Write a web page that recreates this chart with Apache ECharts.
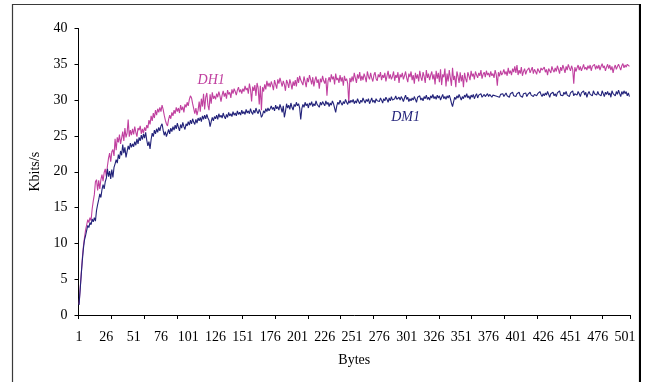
<!DOCTYPE html>
<html>
<head>
<meta charset="utf-8">
<script src="https://cdn.jsdelivr.net/npm/echarts@6/dist/echarts.min.js"></script>
<style>
html,body{margin:0;padding:0;background:#fff;}
#chart{width:646px;height:382px;}
</style>
</head>
<body>
<div id="chart"></div>
<script>
// Throughput (Kbits/s) against message size in bytes, 1..505
const byteCount = 505;
const bytes = [];
for (let b = 1; b <= byteCount; b++) bytes.push(String(b));

const yTicks = { min: 0, max: 40, step: 5 };

const dh1 = [
  1.5, 3.6, 5.8, 7.9, 9.6, 10.8, 11.9, 12.6, 13.3, 12.9, 13.6, 13.2, 14.8, 15.9, 16.8, 18.6, 18.9, 17.4, 18.8, 17.6, 18.9, 19.6, 18.7, 19.9, 20.4,
  19.3, 20.8, 21.9, 22.6, 21.4, 22.8, 23.1, 22.2, 24.6, 23.0, 24.8, 24.1, 25.2, 23.9, 24.7, 25.6, 24.3, 26.1, 24.8, 25.4, 27.3, 24.9, 25.8, 25.1, 26.0,
  25.2, 26.3, 25.5, 24.9, 26.1, 25.8, 26.4, 25.3, 26.0, 25.4, 26.2, 25.7, 26.5, 26.1, 27.2, 26.6, 27.8, 27.1, 28.2, 27.5, 28.6, 27.9, 28.8, 28.3, 29.0,
  28.4, 29.3, 28.7, 27.9, 27.2, 26.7, 26.4, 27.3, 27.9, 27.4, 28.3, 27.8, 28.6, 28.1, 29.0, 28.4, 28.9, 28.2, 29.3, 28.6, 29.1, 28.3, 29.4, 29.0, 29.7,
  29.2, 30.1, 30.6, 30.3, 29.5, 28.8, 28.1, 28.9, 27.9, 28.6, 29.8, 28.4, 30.2, 29.1, 30.9, 28.7, 30.4, 31.0, 29.3, 28.6, 30.8, 29.5, 31.1, 30.2, 30.6,
  30.1, 30.9, 30.4, 31.2, 30.6, 29.8, 30.7, 31.3, 30.5, 31.0, 30.2, 31.4, 30.8, 31.1, 30.3, 31.5, 30.9, 31.6, 31.2, 30.7, 31.4, 31.8, 31.1, 31.5, 30.9,
  31.6, 31.2, 32.0, 31.4, 31.7, 30.9, 32.3, 31.5, 29.8, 31.9, 31.3, 32.1, 30.6, 32.4, 31.7, 29.4, 32.0, 28.6, 31.8, 31.2, 32.2, 31.5, 32.7, 31.9, 32.4,
  31.8, 32.6, 32.1, 31.4, 32.8, 32.2, 31.6, 32.9, 32.3, 33.1, 32.5, 31.9, 32.7, 32.2, 31.3, 32.8, 32.4, 31.7, 32.9, 32.3, 31.5, 32.6, 32.0, 32.8, 31.9,
  33.2, 32.4, 33.4, 32.8, 33.0, 32.1, 33.3, 32.6, 31.8, 33.1, 32.5, 33.5, 32.9, 32.2, 33.2, 31.9, 32.8, 33.3, 32.4, 32.9, 31.6, 33.0, 32.5, 33.4, 32.7,
  32.3, 33.1, 30.6, 32.7, 33.2, 32.5, 33.6, 32.9, 33.3, 32.2, 33.7, 32.8, 33.1, 32.4, 33.5, 32.6, 33.2, 32.0, 33.4, 32.7, 33.0, 32.3, 29.6, 33.1, 32.5,
  33.3, 32.6, 33.8, 33.1, 32.4, 33.6, 33.0, 33.9, 32.7, 33.4, 32.8, 33.7, 33.2, 32.5, 34.0, 33.3, 32.9, 33.8, 33.1, 32.6, 33.5, 33.9, 33.0, 32.7, 33.6,
  33.2, 33.9, 32.8, 33.5, 33.1, 33.8, 32.6, 33.4, 34.1, 33.0, 33.6, 32.9, 33.3, 34.0, 32.7, 33.5, 33.1, 33.9, 32.4, 33.6, 33.2, 33.8, 32.9, 33.4, 34.0,
  33.1, 32.5, 33.7, 33.2, 34.0, 32.8, 33.5, 32.3, 33.8, 33.0, 33.6, 32.6, 34.1, 33.2, 32.7, 33.9, 33.3, 32.4, 34.2, 33.1, 33.7, 32.8, 33.5, 34.0, 32.9,
  33.6, 32.2, 34.1, 33.0, 33.8, 32.5, 34.3, 32.1, 33.6, 33.2, 34.4, 31.9, 33.7, 32.6, 34.2, 33.1, 32.0, 34.5, 32.8, 33.4, 31.8, 34.0, 33.3, 32.4, 33.9,
  32.6, 33.5, 31.8, 33.8, 33.0, 32.5, 33.9, 33.4, 32.8, 34.1, 33.3, 33.7, 32.9, 34.0, 33.5, 33.1, 33.8, 33.4, 34.2, 33.0, 33.6, 33.9, 33.2, 34.1, 33.5,
  33.8, 33.2, 34.0, 33.4, 33.7, 33.1, 34.2, 33.6, 32.0, 33.9, 33.3, 34.1, 33.5, 33.8, 34.3, 33.6, 34.0, 33.4, 34.5, 33.7, 34.1, 33.5, 34.4, 33.9, 34.7,
  33.8, 34.9, 33.5, 34.2, 33.7, 34.6, 33.4, 34.0, 34.4, 33.6, 34.1, 33.9, 34.5, 33.8, 34.2, 34.6, 33.7, 34.3, 34.0, 33.6, 34.4, 34.1, 33.8, 34.5, 34.2,
  34.0, 34.6, 33.9, 34.3, 33.5, 34.4, 34.1, 33.8, 34.7, 34.2, 33.9, 34.5, 34.0, 34.8, 34.3, 33.7, 34.6, 34.1, 34.9, 34.4, 33.8, 34.7, 34.2, 35.0, 34.5,
  34.1, 34.8, 34.3, 32.3, 34.6, 34.0, 34.5, 34.9, 34.2, 34.7, 34.1, 34.5, 35.0, 34.3, 34.6, 34.2, 34.8, 34.4, 34.9, 34.1, 34.7, 34.5, 35.0, 34.3, 34.8,
  34.4, 34.9, 34.2, 34.7, 35.1, 34.5, 34.8, 34.1, 34.6, 35.0, 34.4, 34.9, 34.2, 34.7, 33.8, 34.5, 34.9, 34.3, 34.7, 35.0, 34.6, 34.2, 34.8, 35.1, 34.5,
  34.9, 34.6, 35.0, 34.8, 34.7
];

const dm1 = [
  1.4, 3.5, 5.6, 7.6, 9.3, 10.5, 11.1, 11.8, 12.5, 12.2, 12.9, 12.6, 13.4, 13.0, 13.6, 13.1, 14.6, 15.4, 16.1, 16.9, 16.4, 17.5, 18.2, 17.6, 18.6,
  19.1, 20.4, 19.3, 20.1, 19.0, 20.3, 19.2, 20.6, 21.1, 21.7, 21.2, 22.4, 21.8, 22.9, 22.3, 23.8, 22.6, 23.4, 22.0, 22.8, 23.6, 23.1, 24.0, 23.4, 23.9,
  23.5, 24.2, 23.7, 24.6, 23.9, 24.8, 24.3, 25.1, 24.5, 25.3, 24.7, 25.5, 24.4, 23.6, 24.2, 23.2, 24.5, 25.4, 24.9, 25.8, 25.3, 26.0, 25.5, 26.2, 25.7,
  26.4, 26.7, 25.8, 25.1, 25.6, 24.9, 25.4, 25.9, 25.3, 26.1, 25.6, 26.3, 25.8, 26.5, 26.0, 26.8, 26.2, 25.7, 26.6, 26.1, 26.9, 26.3, 25.9, 26.7, 26.4,
  27.0, 26.5, 27.2, 26.7, 27.4, 26.9, 26.6, 27.3, 26.8, 27.5, 27.1, 27.6, 27.0, 27.8, 27.3, 27.9, 27.4, 28.0, 27.5, 27.2, 26.3, 27.0, 27.6, 27.1, 27.7,
  27.4, 27.9, 27.3, 28.1, 27.6, 27.9, 27.5, 28.2, 27.7, 27.4, 28.0, 27.6, 28.3, 27.8, 28.1, 27.7, 28.4, 27.9, 28.2, 27.8, 28.5, 28.0, 28.3, 27.9, 28.6,
  28.1, 28.4, 28.0, 28.7, 28.2, 28.5, 28.1, 28.8, 28.3, 28.0, 28.6, 28.2, 28.9, 28.4, 28.1, 28.7, 28.3, 27.6, 27.9, 28.5, 28.2, 28.8, 28.4, 28.9, 28.5,
  28.8, 29.2, 28.7, 29.0, 28.5, 29.3, 28.8, 29.1, 28.6, 29.4, 28.9, 28.3, 29.2, 27.6, 28.4, 29.5, 28.9, 29.3, 28.7, 29.6, 29.0, 28.6, 29.4, 29.1, 29.7,
  29.2, 29.5, 28.9, 27.3, 28.8, 29.4, 29.0, 29.7, 29.2, 29.5, 28.9, 29.6, 29.3, 29.8, 29.1, 29.5, 29.2, 29.9, 29.4, 29.6, 29.0, 29.7, 29.3, 29.8, 29.5,
  29.2, 29.9, 29.4, 29.7, 29.1, 29.6, 29.3, 29.9, 29.5, 28.9, 28.3, 29.2, 29.7, 29.4, 30.0, 29.6, 29.3, 29.8, 29.5, 30.1, 29.7, 29.4, 29.9, 29.6, 30.0,
  29.7, 30.1, 29.5, 29.9, 29.6, 30.2, 29.8, 29.5, 30.0, 29.7, 30.3, 29.9, 29.6, 30.1, 29.8, 30.2, 29.5, 29.9, 30.3, 29.7, 30.0, 29.6, 30.2, 29.9, 30.1,
  29.8, 30.3, 30.0, 29.6, 30.2, 29.9, 30.4, 30.1, 29.7, 30.3, 29.9, 30.5, 30.0, 29.8, 30.2, 30.6, 30.1, 29.9, 30.4, 30.0, 30.5, 30.2, 29.8, 30.3, 30.7,
  30.1, 30.4, 29.8, 30.2, 29.9, 30.3, 30.0, 30.5, 30.1, 29.7, 30.4, 30.2, 30.6, 30.0, 30.3, 29.9, 30.5, 30.2, 30.7, 30.1, 30.4, 30.0, 30.6, 30.3, 30.8,
  30.2, 30.5, 30.1, 30.7, 30.3, 30.6, 30.0, 30.4, 30.8, 30.2, 30.5, 30.1, 30.6, 30.3, 30.7, 30.2, 29.6, 29.1, 29.8, 30.4, 30.1, 30.6, 30.3, 30.8, 30.4,
  30.0, 30.5, 30.2, 30.7, 30.4, 30.9, 30.3, 30.6, 30.1, 30.7, 30.4, 30.8, 30.2, 30.6, 30.9, 30.3, 30.7, 30.5, 30.9, 30.4, 30.6, 30.8, 30.5, 30.7, 30.9,
  30.5, 30.8, 30.6, 30.4, 30.7, 30.9, 30.6, 30.8, 30.5, 30.7, 30.4, 30.8, 30.6, 30.9, 30.5, 30.7, 31.0, 30.6, 30.8, 30.4, 30.9, 30.7, 31.1, 30.6, 30.8,
  30.5, 30.9, 30.7, 31.1, 30.6, 30.8, 30.4, 30.9, 30.7, 31.0, 30.5, 30.8, 30.6, 31.1, 30.7, 30.9, 30.5, 30.8, 31.0, 30.6, 30.9, 30.7, 31.2, 30.8, 30.5,
  30.9, 30.6, 31.0, 30.7, 31.2, 30.8, 30.4, 30.9, 30.7, 31.1, 30.6, 30.9, 30.5, 31.0, 30.8, 31.3, 30.7, 30.9, 30.6, 31.1, 30.8, 31.2, 30.7, 30.9, 30.5,
  31.0, 30.8, 31.3, 30.6, 30.9, 31.1, 30.7, 31.2, 30.9, 30.5, 31.0, 30.8, 31.3, 30.7, 31.1, 30.4, 30.9, 31.2, 30.8, 31.0, 30.6, 31.3, 30.9, 31.1, 30.7,
  31.2, 30.8, 31.0, 30.6, 31.3, 30.9, 30.5, 31.1, 30.8, 31.2, 30.7, 31.0, 30.4, 31.3, 30.9, 31.1, 30.6, 31.2, 30.8, 31.4, 30.9, 30.5, 31.2, 30.8, 31.3,
  30.9, 31.2, 30.6, 31.0, 30.5
];

// Where the inline series names sit: [byte, Kbits/s]
const dh1Tag = ['122', 32.8];
const dm1Tag = ['300', 27.6];

const serif = '"Liberation Serif", "Times New Roman", serif';
const dh1Color = '#c0409f';
const dm1Color = '#23237a';

function tagPoint(pos, text, color) {
  return {
    silent: true,
    symbol: 'circle',
    symbolSize: 0,
    data: [{ coord: pos }],
    label: {
      show: true,
      position: 'inside',
      formatter: text,
      color: color,
      fontFamily: serif,
      fontStyle: 'italic',
      fontSize: 14
    }
  };
}

const chart = echarts.init(document.getElementById('chart'), null, { renderer: 'canvas' });
chart.setOption({
  animation: false,
  backgroundColor: '#fff',
  graphic: [
    {
      type: 'rect',
      shape: { x: 12.5, y: 4.5, width: 627, height: 400 },
      style: { fill: 'none', stroke: '#3a3a3a', lineWidth: 1.2 },
      silent: true
    },
    {
      type: 'line',
      shape: { x1: 640, y1: 4, x2: 640, y2: 382 },
      style: { stroke: '#000', lineWidth: 2 },
      silent: true
    }
  ],
  grid: { left: 78.5, right: 16, top: 28.5, bottom: 67 },
  xAxis: {
    type: 'category',
    data: bytes,
    boundaryGap: true,
    name: 'Bytes',
    nameLocation: 'middle',
    nameGap: 38,
    nameTextStyle: { fontFamily: serif, fontSize: 14, color: '#000' },
    axisLine: { lineStyle: { color: '#000', width: 1 } },
    axisTick: { show: true, interval: 29, length: 4, lineStyle: { color: '#000' } },
    axisLabel: { interval: 24, margin: 15, fontFamily: serif, fontSize: 14, color: '#000' },
    splitLine: { show: false }
  },
  yAxis: {
    type: 'value',
    min: yTicks.min,
    max: yTicks.max,
    interval: yTicks.step,
    name: 'Kbits/s',
    nameLocation: 'middle',
    nameRotate: 90,
    nameGap: 33,
    nameTextStyle: { fontFamily: serif, fontSize: 14, color: '#000' },
    axisLine: { show: true, lineStyle: { color: '#000', width: 1 } },
    axisTick: { show: true, length: 4, lineStyle: { color: '#000' } },
    axisLabel: { margin: 11, fontFamily: serif, fontSize: 14, color: '#000' },
    splitLine: { show: false }
  },
  series: [
    {
      name: 'DH1',
      type: 'line',
      data: dh1,
      symbol: 'none',
      lineStyle: { color: dh1Color, width: 1.1 },
      itemStyle: { color: dh1Color },
      markPoint: tagPoint(dh1Tag, 'DH1', dh1Color)
    },
    {
      name: 'DM1',
      type: 'line',
      data: dm1,
      symbol: 'none',
      lineStyle: { color: dm1Color, width: 1.1 },
      itemStyle: { color: dm1Color },
      markPoint: tagPoint(dm1Tag, 'DM1', dm1Color)
    }
  ]
});
</script>
</body>
</html>
